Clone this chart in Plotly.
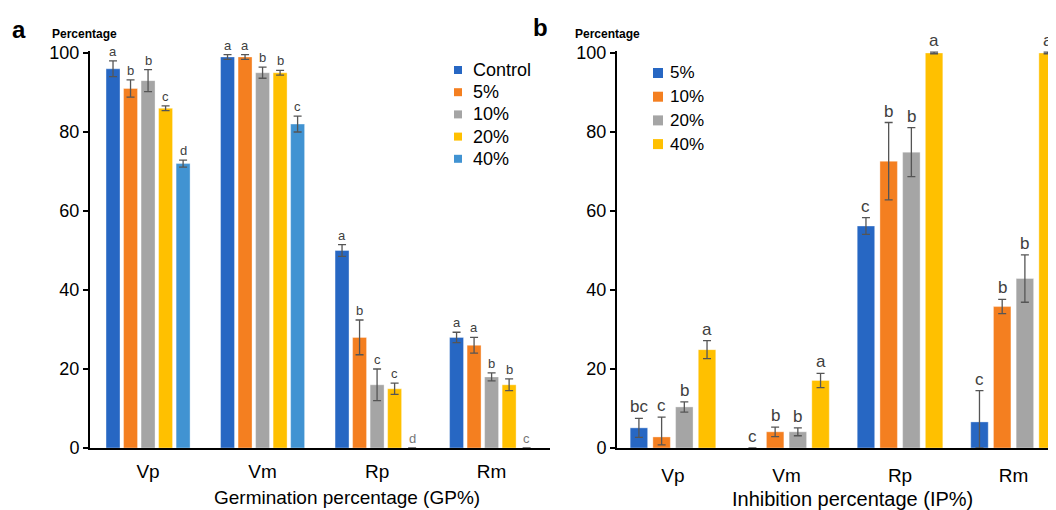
import plotly.graph_objects as go
import numpy as np

# ---------------- data ----------------
categories = ["Vp", "Vm", "Rp", "Rm"]

gp_series = ["Control", "5%", "10%", "20%", "40%"]
gp_values = {
    "Control": [96, 99, 50, 28],
    "5%": [91, 99, 28, 26],
    "10%": [93, 95, 16, 18],
    "20%": [86, 95, 15, 16],
    "40%": [72, 82, 0, 0],
}
gp_errors = {
    "Control": [2.0, 0.6, 1.5, 1.3],
    "5%": [2.2, 0.6, 4.4, 2.0],
    "10%": [2.8, 1.4, 4.0, 1.0],
    "20%": [0.6, 0.6, 1.4, 1.5],
    "40%": [0.9, 2.0, 0.0, 0.0],
}
gp_letters = {
    "Control": ["a", "a", "a", "a"],
    "5%": ["b", "a", "b", "a"],
    "10%": ["b", "b", "c", "b"],
    "20%": ["c", "b", "c", "b"],
    "40%": ["d", "c", "d", "c"],
}

ip_series = ["5%", "10%", "20%", "40%"]
ip_values = {
    "5%": [5.1, 0.0, 56.2, 6.6],
    "10%": [2.8, 4.1, 72.6, 35.8],
    "20%": [10.4, 4.1, 74.9, 42.9],
    "40%": [24.9, 17.1, 100.0, 100.0],
}
ip_err_plus = {
    "5%": [2.4, 0.0, 2.1, 7.9],
    "10%": [5.0, 1.2, 9.8, 1.8],
    "20%": [1.3, 1.0, 6.2, 6.0],
    "40%": [2.3, 1.8, 0.2, 0.2],
}
ip_err_minus = {
    "5%": [2.4, 0.0, 2.1, 6.6],
    "10%": [2.0, 1.2, 9.8, 1.8],
    "20%": [1.3, 1.0, 6.2, 6.0],
    "40%": [2.3, 1.8, 0.2, 0.2],
}
ip_letters = {
    "5%": ["bc", "c", "c", "c"],
    "10%": ["c", "b", "b", "b"],
    "20%": ["b", "b", "b", "b"],
    "40%": ["a", "a", "a", "a"],
}

# ---------------- styles ----------------
FONT = "Liberation Sans, Arial, sans-serif"
gp_colors = {"Control": "#2767C3", "5%": "#F47F20", "10%": "#A5A5A5",
             "20%": "#FFC000", "40%": "#4193D2"}
ip_colors = {"5%": "#2767C3", "10%": "#F47F20", "20%": "#A5A5A5", "40%": "#FFC000"}
ERR_COLOR = "#555555"
LBL_COLOR = "#404040"

OFF = 8                       # default body margin of the page
W, H = 1056 - OFF, 510 - OFF  # figure size so it fits the window
ML, MR, MT, MB = 0, 0, 43, 62
plot_h = H - MT - MB


def px(sx):
    """screen x pixel -> paper fraction"""
    return (sx - OFF) / W


def py(sy):
    """screen y pixel -> paper fraction"""
    return (H - MB - (sy - OFF)) / plot_h


def no_zero(errs, vals):
    """hide the error bar where there is no bar and no error"""
    return [None if (e == 0 and v == 0) else e for e, v in zip(errs, vals)]


xpos = np.arange(len(categories))

fig = go.Figure()
annotations = []
shapes = []

# Panel a
slot_a, bw_a = 0.153, 0.122
n_a = len(gp_series)
for i, s in enumerate(gp_series):
    c = (i - (n_a - 1) / 2) * slot_a
    fig.add_trace(go.Bar(
        x=xpos, y=gp_values[s], name=s,
        width=bw_a, offset=c - bw_a / 2,
        marker=dict(color=gp_colors[s], line=dict(color="rgba(255,255,255,0.6)", width=0.6)),
        error_y=dict(type="data", array=no_zero(gp_errors[s], gp_values[s]), color=ERR_COLOR,
                     thickness=1.3, width=4, visible=True),
        xaxis="x", yaxis="y", showlegend=False, cliponaxis=False,
    ))
    for j in range(len(categories)):
        v = gp_values[s][j]
        annotations.append(dict(
            x=xpos[j] + c, y=v + gp_errors[s][j], xref="x", yref="y",
            text=gp_letters[s][j], showarrow=False, yanchor="bottom",
            font=dict(family=FONT, size=13, color=LBL_COLOR if v > 0 else "#777777"),
        ))

# Panel b
slot_b, bw_b = 0.2, 0.154
n_b = len(ip_series)
for i, s in enumerate(ip_series):
    c = (i - (n_b - 1) / 2) * slot_b
    fig.add_trace(go.Bar(
        x=xpos, y=ip_values[s], name=s,
        width=bw_b, offset=c - bw_b / 2,
        marker=dict(color=ip_colors[s], line=dict(color="rgba(255,255,255,0.6)", width=0.6)),
        error_y=dict(type="data", symmetric=False,
                     array=no_zero(ip_err_plus[s], ip_values[s]),
                     arrayminus=no_zero(ip_err_minus[s], ip_values[s]), color=ERR_COLOR,
                     thickness=1.3, width=4, visible=True),
        xaxis="x2", yaxis="y2", showlegend=False, cliponaxis=False,
    ))
    for j in range(len(categories)):
        v = ip_values[s][j]
        annotations.append(dict(
            x=xpos[j] + c, y=v + ip_err_plus[s][j], xref="x2", yref="y2",
            text=ip_letters[s][j], showarrow=False, yanchor="bottom",
            font=dict(family=FONT, size=17, color=LBL_COLOR),
        ))

# Legends (square swatches + text), built from the series lists
def add_legend(series, colors, cx, y0, dy, size, tx, fsize):
    for k, s in enumerate(series):
        cy = y0 + k * dy
        shapes.append(dict(type="rect", xref="paper", yref="paper",
                           x0=px(cx - size / 2), x1=px(cx + size / 2),
                           y0=py(cy + size / 2), y1=py(cy - size / 2),
                           fillcolor=colors[s], line=dict(width=0)))
        annotations.append(dict(text=s, x=px(tx), y=py(cy), xref="paper", yref="paper",
                                showarrow=False, xanchor="left", yanchor="middle",
                                font=dict(family=FONT, size=fsize, color="black")))


add_legend(gp_series, gp_colors, 458, 70, 22.2, 8, 471, 18)
add_legend(ip_series, ip_colors, 658, 73, 23.7, 10, 668, 17)

# Panel letters, y-titles and x-titles
annotations += [
    dict(text="<b>a</b>", x=px(19), y=py(29), xref="paper", yref="paper", showarrow=False,
         xanchor="center", yanchor="middle", font=dict(family=FONT, size=24, color="black")),
    dict(text="<b>b</b>", x=px(540), y=py(28), xref="paper", yref="paper", showarrow=False,
         xanchor="center", yanchor="middle", font=dict(family=FONT, size=24, color="black")),
    dict(text="<b>Percentage</b>", x=px(84), y=py(34), xref="paper", yref="paper", showarrow=False,
         xanchor="center", yanchor="middle", font=dict(family=FONT, size=12, color="black")),
    dict(text="<b>Percentage</b>", x=px(607), y=py(34), xref="paper", yref="paper", showarrow=False,
         xanchor="center", yanchor="middle", font=dict(family=FONT, size=12, color="black")),
    dict(text="Germination percentage (GP%)", x=px(347), y=py(497), xref="paper", yref="paper",
         showarrow=False, xanchor="center", yanchor="middle",
         font=dict(family=FONT, size=19, color="black")),
    dict(text="Inhibition percentage (IP%)", x=px(852), y=py(499), xref="paper", yref="paper",
         showarrow=False, xanchor="center", yanchor="middle",
         font=dict(family=FONT, size=20, color="black")),
]

yaxis_common = dict(range=[0, 100.5], tickvals=[0, 20, 40, 60, 80, 100], ticks="outside",
                    ticklen=5, tickwidth=1.5, tickcolor="black", showline=True, linewidth=2,
                    linecolor="black", showgrid=False, zeroline=False,
                    tickfont=dict(family=FONT, size=18, color="black"))
xaxis_common = dict(tickvals=list(xpos), ticktext=categories, ticks="", showline=True,
                    linewidth=2, linecolor="black", showgrid=False, zeroline=False,
                    tickfont=dict(family=FONT, size=19, color="black"))

fig.update_layout(
    width=W, height=H,
    margin=dict(l=ML, r=MR, t=MT, b=MB, autoexpand=False),
    plot_bgcolor="white", paper_bgcolor="white",
    barmode="overlay",
    showlegend=False,
    xaxis=dict(domain=[px(90), px(550)], range=[-0.507, 3.51], anchor="y",
               ticklabelstandoff=5, **xaxis_common),
    yaxis=dict(anchor="x", **yaxis_common),
    xaxis2=dict(domain=[px(617), 1.0], range=[-0.493, 3.374], anchor="y2",
                ticklabelstandoff=9, **xaxis_common),
    yaxis2=dict(anchor="x2", **yaxis_common),
    annotations=annotations,
    shapes=shapes,
)

fig.write_html("out.html")
